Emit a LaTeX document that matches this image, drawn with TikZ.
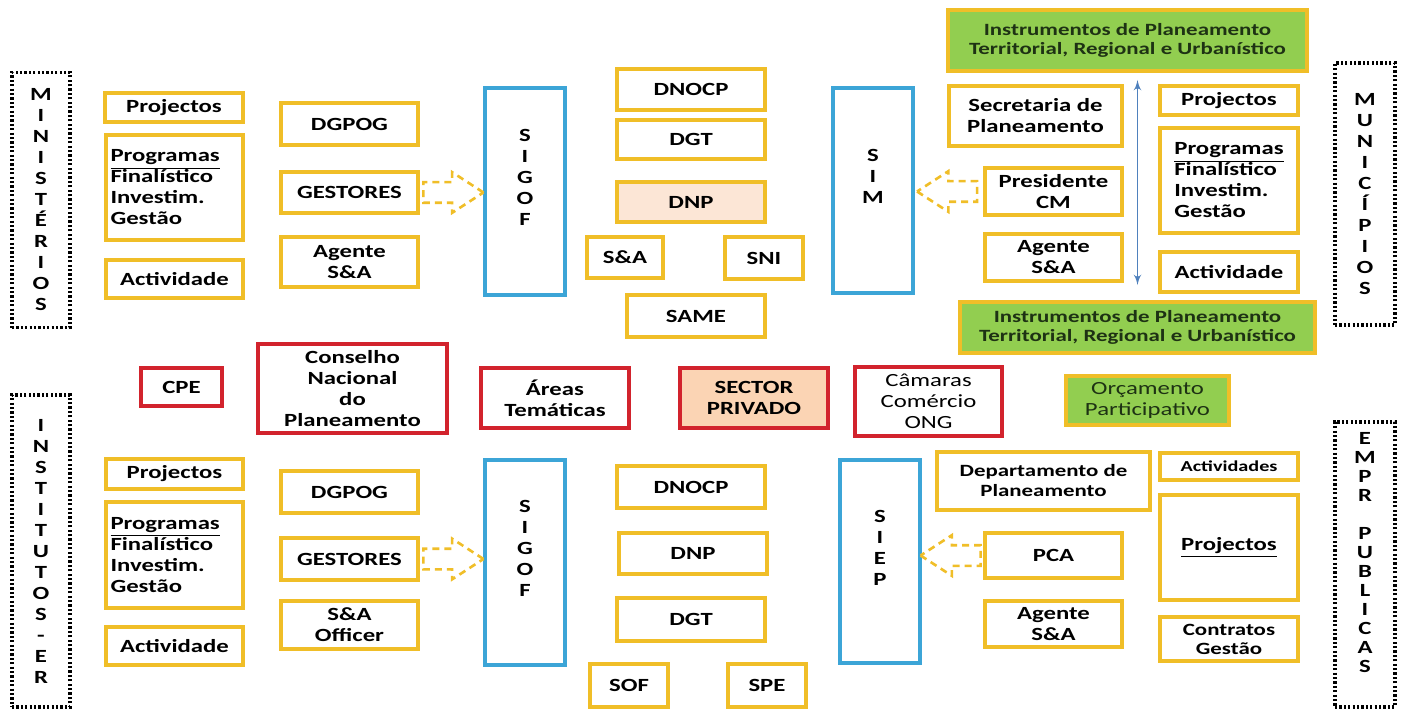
\documentclass[tikz,border=0pt]{standalone}
\usepackage{fontspec}
\setmainfont{Carlito}[FakeStretch=1.33]
\usepackage{tikz}
\usetikzlibrary{shapes.arrows, arrows, calc}

\definecolor{boxgold}{RGB}{240,190,40}
\definecolor{boxred}{RGB}{210,35,45}
\definecolor{boxblue}{RGB}{60,165,215}
\definecolor{boxgreen}{RGB}{146,206,80}
\definecolor{greentext}{RGB}{30,50,20}
\definecolor{peach}{RGB}{251,212,180}
\definecolor{lightpeach}{RGB}{252,230,214}
\definecolor{arrowblue}{RGB}{79,129,189}

\tikzstyle{ybox} = [rectangle, draw=boxgold, line width=2pt, align=center,
    font=\fontsize{9.3}{10.5}\selectfont\bfseries]
\tikzstyle{rbox} = [ybox, draw=boxred]
\tikzstyle{bbox} = [ybox, draw=boxblue]
\tikzstyle{gbox} = [ybox, fill=boxgreen, text=greentext,
    font=\fontsize{8.6}{9.2}\selectfont\bfseries]
\tikzstyle{dotbox} = [rectangle, draw, line width=1.8pt, dash pattern=on 1.1pt off 1.1pt,
    align=center, font=\fontsize{9.3}{10.5}\selectfont\bfseries]
\tikzstyle{pushright} = [single arrow, draw=boxgold, line width=1.3pt,
    dash pattern=on 3.5pt off 2.5pt, inner xsep=0pt, inner ysep=4.5pt, minimum width=18pt,
    single arrow head extend=5pt, single arrow tip angle=66, minimum height=30pt, xshift=-3pt]
\tikzstyle{pushleft} = [pushright, shape border rotate=180, xshift=6pt]
\tikzstyle{updown} = [draw=arrowblue, line width=0.8pt, latex'-latex']
\tikzset{sz/.style 2 args={minimum width=#1*0.5pt, minimum height=#2*0.5pt}}

\begin{document}
\begin{tikzpicture}[x=0.5pt, y=-0.5pt]
    \fill[white] (0,0) rectangle (1402,711);
    \useasboundingbox (0,0) rectangle (1402,711);
    % Ministerios
    \node [dotbox, sz={58}{255}] (minis) at (41,200) {M\\I\\N\\I\\S\\T\\É\\R\\I\\O\\S};
    \node [ybox, sz={138}{29}] (projM) at (174,107.5) {Projectos};
    \node [ybox, sz={137}{105}, inner xsep=1pt, text width=64pt, align=left] (progM) at (174.5,187.5) {\underline{Programas}\\Finalístico\\Investim.\\Gestão};
    \node [ybox, sz={137}{38}] (actM) at (174.5,279) {Actividade};
    \node [ybox, sz={137}{42}] (dgpogM) at (349.5,124) {DGPOG};
    \node [ybox, sz={137}{41}] (gestM) at (349.5,192.5) {GESTORES};
    \node [ybox, sz={137}{50}] (agM) at (349.5,262) {Agente\\S\&A};
    \node [bbox, sz={80}{207}] (sigofT) at (525,191.5) {S\\I\\G\\O\\F\\\strut};
    \node [ybox, sz={148}{41}] (dnocpT) at (691,89.5) {DNOCP};
    \node [ybox, sz={148}{39}] (dgtT) at (691,139.5) {DGT};
    \node [ybox, sz={148}{40}, fill=lightpeach] (dnpT) at (691,202) {DNP};
    \node [ybox, sz={76}{41}] (saT) at (625,257.5) {S\&A};
    \node [ybox, sz={78}{42}] (sniT) at (764,258) {SNI};
    \node [ybox, sz={138}{42}] (sameT) at (696,316) {SAME};
    % Municipios
    \node [bbox, sz={80}{205}] (simT) at (873,190.5) {S\\I\\M\\\strut};
    \node [ybox, sz={173}{60}] (secP) at (1035.5,116) {Secretaria de\\Planeamento};
    \node [ybox, sz={137}{47}] (presCM) at (1053.5,191.5) {Presidente\\CM};
    \node [ybox, sz={137}{41}] (agMun) at (1053.5,257.5) {Agente\\S\&A};
    \node [ybox, sz={138}{29}] (projMun) at (1229,100.5) {Projectos};
    \node [ybox, sz={138}{105}, align=left] (progMun) at (1229,180.5) {\underline{Programas}\\Finalístico\\Investim.\\Gestão};
    \node [ybox, sz={138}{40}] (actMun) at (1229,272) {Actividade};
    \node [dotbox, sz={60}{262}] (munic) at (1365,194) {M\\U\\N\\I\\C\\Í\\P\\I\\O\\S};
    \node [gbox, sz={359}{61}] (instrT) at (1127.5,40.5) {Instrumentos de Planeamento\\Territorial, Regional e Urbanístico};
    \node [gbox, sz={355}{51}] (instrB) at (1137.5,327.5) {Instrumentos de Planeamento\\Territorial, Regional e Urbanístico};
    % Middle row
    \node [rbox, sz={81}{38}] (cpe) at (181.5,387) {CPE};
    \node [rbox, sz={189}{89}] (cnp) at (352.5,388.5) {Conselho\\Nacional\\do\\Planeamento};
    \node [rbox, sz={148}{60}] (areas) at (555,398) {Áreas\\Temáticas};
    \node [rbox, sz={148}{60}, fill=peach] (sector) at (754,398) {SECTOR\\PRIVADO};
    \node [rbox, sz={147}{68}, font=\fontsize{9.3}{10.5}\selectfont] (camaras) at (928.5,401.5) {Câmaras\\Comércio\\ONG};
    \node [gbox, sz={163}{49}, font=\fontsize{9.3}{10.5}\selectfont] (orc) at (1147.5,400.5) {Orçamento\\Participativo};
    % Institutos
    \node [dotbox, sz={58}{312}] (inst) at (41,551) {I\\N\\S\\T\\I\\T\\U\\T\\O\\S\\-\\E\\R};
    \node [ybox, sz={137}{28}] (projI) at (174.5,474) {Projectos};
    \node [ybox, sz={137}{106}, inner xsep=1pt, text width=64pt, align=left] (progI) at (174.5,555) {\underline{Programas}\\Finalístico\\Investim.\\Gestão};
    \node [ybox, sz={137}{38}] (actI) at (174.5,646) {Actividade};
    \node [ybox, sz={137}{42}] (dgpogI) at (349.5,492) {DGPOG};
    \node [ybox, sz={137}{42}] (gestI) at (349.5,559) {GESTORES};
    \node [ybox, sz={137}{44}] (saoff) at (349.5,625) {S\&A\\Officer};
    \node [bbox, sz={80}{205}] (sigofB) at (525,562.5) {S\\I\\G\\O\\F\\\strut};
    \node [ybox, sz={148}{42}] (dnocpB) at (691,487) {DNOCP};
    \node [ybox, sz={148}{41}] (dnpB) at (693,553.5) {DNP};
    \node [ybox, sz={148}{43}] (dgtB) at (691,619.5) {DGT};
    \node [ybox, sz={78}{43}] (sof) at (629,685.5) {SOF};
    \node [ybox, sz={78}{43}] (spe) at (767,685.5) {SPE};
    % Empresas publicas
    \node [bbox, sz={80}{203}] (siep) at (880,561.5) {S\\I\\E\\P\\\strut};
    \node [ybox, sz={213}{58}, font=\fontsize{8.6}{10}\selectfont\bfseries] (depP) at (1043.5,481) {Departamento de\\Planeamento};
    \node [ybox, sz={137}{45}] (pca) at (1053.5,555.5) {PCA};
    \node [ybox, sz={137}{42}] (agEmp) at (1053.5,624) {Agente\\S\&A};
    \node [ybox, sz={138}{27}, font=\fontsize{7.6}{9}\selectfont\bfseries] (actvE) at (1229,466.5) {Actividades};
    \node [ybox, sz={138}{105}] (projE) at (1229,547.5) {\underline{Projectos}};
    \node [ybox, sz={138}{38}, font=\fontsize{8.6}{9.5}\selectfont\bfseries] (contr) at (1229,639) {Contratos\\Gestão};
    \node [dotbox, sz={60}{285}, font=\fontsize{9.3}{9.5}\selectfont\bfseries] (empr) at (1365,564.5) {E\\M\\P\\R\\\mbox{}\\P\\U\\B\\L\\I\\C\\A\\S\\\strut};
    % Draw arrows
    \node [pushright] (gestArrM) at ($(gestM.east)!0.5!(sigofT.west |- gestM.east)$) {};
    \node [pushleft] (presArr) at ($(presCM.west)!0.5!(simT.east |- presCM.west)$) {};
    \node [pushright] (gestArrI) at ($(gestI.east)!0.5!(sigofB.west |- gestI.east)$) {};
    \node [pushleft] (pcaArr) at ($(pca.west)!0.5!(siep.east |- pca.west)$) {};
    \path [updown, shorten <=7.5pt, shorten >=3.5pt] (instrB.north) -- (instrB.north |- instrT.south);
\end{tikzpicture}
\end{document}
